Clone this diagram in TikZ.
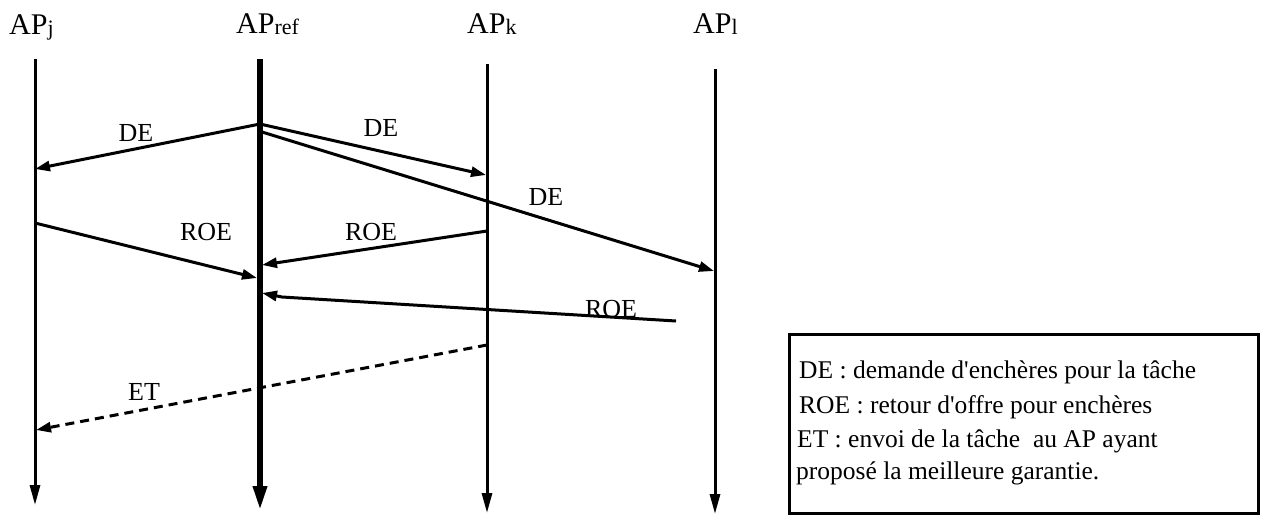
\documentclass[tikz,border=0pt]{standalone}
\usepackage{fontspec}
\setmainfont{Liberation Serif}[Ligatures=TeXOff]
\usepackage{tikz}
\usetikzlibrary{arrows.meta}
\usepackage{xcolor}

\tikzset{
  vie/.style={line width=3pt,-{Triangle[length=20pt,width=10pt]}},
  vieref/.style={line width=6pt,-{Triangle[length=25pt,width=13pt]}},
  msg/.style={line width=3pt,-{Triangle[length=15pt,width=10pt]}},
  titre/.style={font=\fontsize{30}{34}\selectfont,inner sep=0pt,anchor=base west},
  lbl/.style={font=\fontsize{26}{30}\selectfont,inner sep=0pt},
  leg/.style={font=\fontsize{25.5}{30}\selectfont,inner sep=0pt,anchor=base west},
}
\newcommand{\apsub}[1]{\raisebox{-1.5pt}{\fontsize{22}{22}\selectfont #1}}

\begin{document}
\begin{tikzpicture}[x=1pt,y=-1pt]
			\useasboundingbox (0,0) rectangle (1261,515);
			% titres des AP
			\node[titre] (nj) at (9,34) {AP\apsub{j}};
			\node[titre] (nref) at (236,33) {AP\apsub{ref}};
			\node[titre] (nk) at (467,33) {AP\apsub{k}};
			\node[titre] (nl) at (693,33) {AP\apsub{l}};
			% lignes de vie
			\coordinate (jtop) at (35,59);   \coordinate (jbot) at (35,505);
			\coordinate (reftop) at (260,59); \coordinate (refbot) at (260,511);
			\coordinate (ktop) at (487,64);  \coordinate (kbot) at (487,513);
			\coordinate (ltop) at (715,69);  \coordinate (lbot) at (715,514);
			\draw[vie] (jtop) -- (jbot);
			\draw[vieref] (reftop) -- (refbot);
			\draw[vie] (ktop) -- (kbot);
			\draw[vie] (ltop) -- (lbot);
			% DE
			\coordinate (de0) at (260,124);
			\coordinate (de1) at (35,169);
			\coordinate (de2) at (486,175);
			\coordinate (de3s) at (262,132);
			\coordinate (de3) at (714,271);
			\draw[msg] (de0) -- (de1);
			\draw[msg] (de0) -- (de2);
			\draw[msg] (de3s) -- (de3);
			\node[lbl] (tde1) at (136,133) {DE};
			\node[lbl] (tde2) at (381,128) {DE};
			\node[lbl] (tde3) at (546,197) {DE};
			% ROE
			\coordinate (roe1s) at (35,223);  \coordinate (roe1) at (257,278);
			\coordinate (roe2s) at (487,231); \coordinate (roe2) at (262,265);
			\coordinate (roe3s) at (676,321); \coordinate (roe3b) at (282,297);
			\coordinate (roe3) at (262,293);
			\draw[msg] (roe1s) -- (roe1);
			\draw[msg] (roe2s) -- (roe2);
			\draw[msg] (roe3s) -- (roe3b) -- (roe3);
			\node[lbl] (troe1) at (206,232) {ROE};
			\node[lbl] (troe2) at (371,232) {ROE};
			\node[lbl] (troe3) at (611,309) {ROE};
			% ET
			\coordinate (ets) at (487,345); \coordinate (et) at (36,430);
			\draw[msg,dash pattern=on 9pt off 6pt] (ets) -- (et);
			\node[lbl] (tet) at (144,392) {ET};
			% legende
			\node[draw,line width=3pt,minimum width=469pt,minimum height=179pt,anchor=north west] (leg) at (787.5,332.5) {};
			\node[leg] (leg1) at (799,378) {DE : demande d'enchères pour la tâche};
			\node[leg] (leg2) at (799,413) {ROE : retour d'offre pour enchères};
			\node[leg] (leg3) at (797,447) {ET : envoi de la tâche\ \ au AP ayant};
			\node[leg] (leg4) at (796,479) {proposé la meilleure garantie.};
			\end{tikzpicture}
\end{document}
